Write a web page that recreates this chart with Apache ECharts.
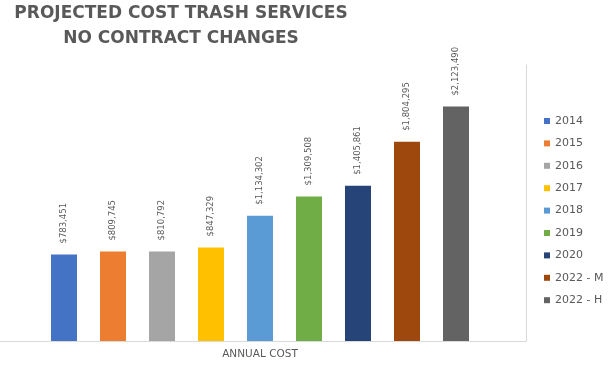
<!DOCTYPE html>
<html>
<head>
<meta charset="utf-8">
<script src="https://cdn.jsdelivr.net/npm/echarts@6/dist/echarts.min.js"></script>
<style>html,body{margin:0;padding:0;background:#fff;}#main{width:609px;height:366px;}</style>
</head>
<body>
<div id="main"></div>
<script>
const titleText = 'PROJECTED COST TRASH SERVICES\nNO CONTRACT CHANGES';
const categories = ['ANNUAL COST'];
const seriesNames = ['2014', '2015', '2016', '2017', '2018', '2019', '2020', '2022 - M', '2022 - H'];
const values = [783451, 809745, 810792, 847329, 1134302, 1309508, 1405861, 1804295, 2123490];
const colors = ['#4472C4', '#ED7D31', '#A5A5A5', '#FFC000', '#5B9BD5', '#70AD47', '#264478', '#9E480E', '#636363'];

const FONT = 'DejaVu Sans';
const TEXT = '#595959';

const chart = echarts.init(document.getElementById('main'), null, { renderer: 'canvas' });
const fmt = v => '$' + Number(v).toLocaleString('en-US');

chart.setOption({
  animation: false,
  backgroundColor: '#fff',
  color: colors,
  title: {
    text: titleText,
    left: 181,
    top: 1,
    padding: 0,
    textAlign: 'center',
    textStyle: { fontFamily: FONT, fontSize: 17, fontWeight: 'bold', color: TEXT, lineHeight: 25 }
  },
  legend: {
    orient: 'vertical',
    left: 544,
    top: 114,
    padding: 0,
    itemWidth: 6,
    itemHeight: 6,
    itemGap: 8.4,
    icon: 'rect',
    data: seriesNames,
    textStyle: { fontFamily: FONT, fontSize: 11, color: TEXT, lineHeight: 14 }
  },
  grid: { left: -6, right: 83, top: 65, bottom: 25, containLabel: false, outerBoundsMode: 'none' },
  xAxis: {
    type: 'category',
    data: categories,
    axisLine: { show: true, lineStyle: { color: '#D9D9D9', width: 1 } },
    axisTick: { show: false },
    axisLabel: { fontFamily: FONT, fontSize: 10.5, color: TEXT, margin: 8 },
    splitLine: { show: false }
  },
  yAxis: {
    type: 'value',
    min: 0,
    max: 2500000,
    position: 'right',
    axisLine: { show: true, lineStyle: { color: '#D9D9D9', width: 1 } },
    axisTick: { show: false },
    axisLabel: { show: false },
    splitLine: { show: false }
  },
  series: seriesNames.map((name, i) => ({
    name: name,
    type: 'bar',
    data: [values[i]],
    barWidth: 26,
    barGap: '88.46%',
    itemStyle: { color: colors[i] },
    label: {
      show: true,
      position: 'top',
      rotate: 90,
      align: 'left',
      verticalAlign: 'middle',
      distance: 11,
      fontFamily: FONT,
      fontSize: 8.5,
      color: TEXT,
      formatter: p => fmt(p.value)
    }
  }))
});
</script>
</body>
</html>
